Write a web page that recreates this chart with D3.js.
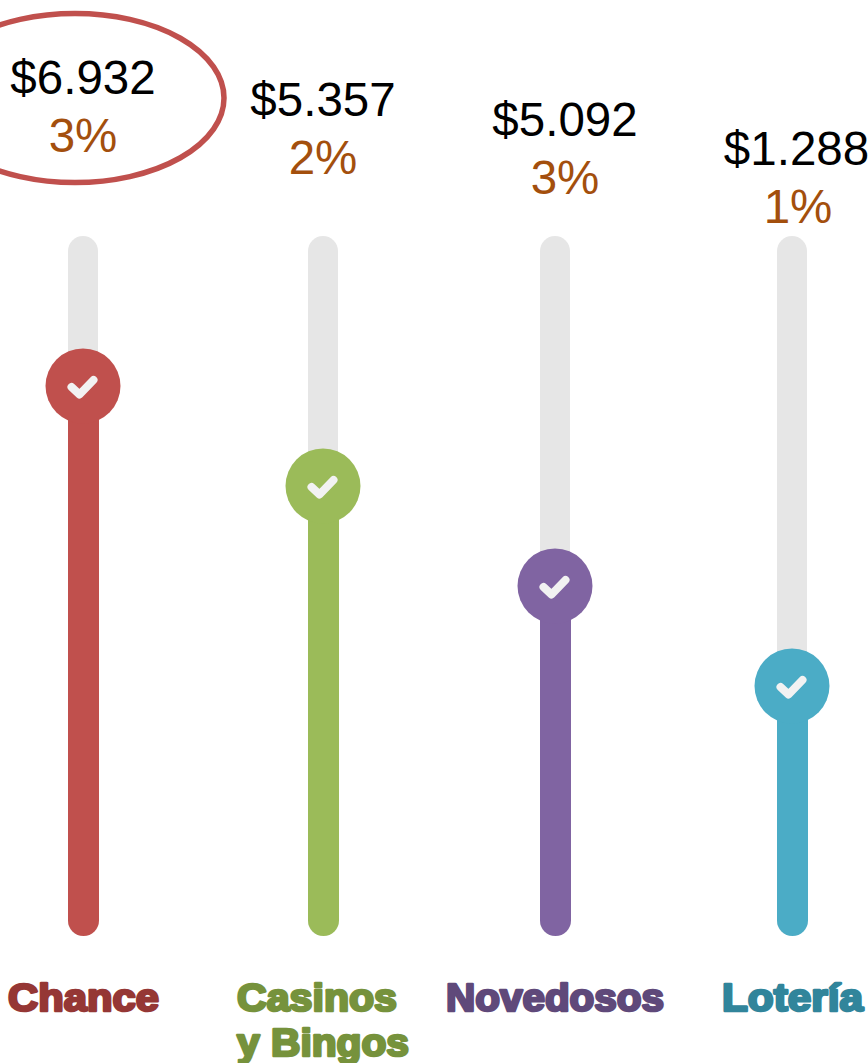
<!DOCTYPE html>
<html>
<head>
<meta charset="utf-8">
<style>html,body{margin:0;padding:0;background:#fff;overflow:hidden}svg{display:block}</style>
<script src="https://cdn.jsdelivr.net/npm/d3@7/dist/d3.min.js"></script>
</head>
<body>
<div id="chart"></div>
<script>
// Data
const categories = ["Chance", "Casinos y Bingos", "Novedosos", "Lotería"];
const amounts = [6932, 5357, 5092, 1288];
const shares = [3, 2, 3, 1];
const sliderLevels = [5.5, 4.5, 3.5, 2.5];
const highlighted = ["Chance"];

// Styles
const barColors = ["#c0504d", "#9bbb59", "#8064a2", "#4bacc6"];
const labelColors = ["#953735", "#76923c", "#5f497a", "#31859b"];

// Layout
const W = 868, H = 1063;
const x = d3.scaleOrdinal().domain(categories).range([83, 323, 555, 792]);
const xValue = d3.scaleOrdinal().domain(categories).range([83, 323, 565, 796.5]);
const xShare = d3.scaleOrdinal().domain(categories).range([83, 323, 565, 798]);
const yValue = d3.scaleOrdinal().domain(categories).range([93.5, 115.5, 135.5, 165]);
const labelLines = d3.scaleOrdinal().domain(categories).range([
  [{t:"Chance", x:8, w:151}],
  [{t:"Casinos", x:237, w:160},{t:"y Bingos", x:237, w:172}],
  [{t:"Novedosos", x:446, w:218}],
  [{t:"Lotería", x:722, w:141}]
]);
const y = d3.scaleLinear().domain([0, 7]).range([936, 236]);
const locale = d3.formatLocale({decimal:",", thousands:".", grouping:[3], currency:["$",""]});
const money = locale.format("$,d");

const rows = categories.map((c, i) => ({c, amount: amounts[i], share: shares[i], level: sliderLevels[i], bar: barColors[i], label: labelColors[i]}));

const svg = d3.select("#chart").append("svg").attr("width", W).attr("height", H).attr("viewBox", `0 0 ${W} ${H}`);
svg.append("rect").attr("width", W).attr("height", H).attr("fill", "#fff");
const FONT = "'Liberation Sans', Arial, sans-serif";

// Highlight ring
svg.selectAll("ellipse.ring").data(rows.filter(r => highlighted.includes(r.c))).join("ellipse")
  .attr("class", "ring").attr("cx", 75).attr("cy", 98).attr("rx", 149).attr("ry", 84.5)
  .attr("fill", "none").attr("stroke", d => d.bar).attr("stroke-width", 5.5);

const g = svg.selectAll("g.col").data(rows).join("g").attr("class", "col");

// Track
g.append("rect").attr("x", d => x(d.c) - 15).attr("width", 30)
  .attr("y", y(7)).attr("height", d => y(0) - y(7)).attr("rx", 15).attr("fill", "#e6e6e6");
// Fill
g.append("rect").attr("x", d => x(d.c) - 15).attr("width", 31)
  .attr("y", d => y(d.level)).attr("height", d => y(0) - y(d.level)).attr("rx", 15.5).attr("fill", d => d.bar);
// Knob
g.append("circle").attr("cx", d => x(d.c)).attr("cy", d => y(d.level)).attr("r", 37.5).attr("fill", d => d.bar);
// Check
g.append("path")
  .attr("transform", d => `translate(${x(d.c)},${y(d.level)})`)
  .attr("d", "M-11.5,1 L-3.5,8.5 L10.5,-6")
  .attr("fill", "none").attr("stroke", "#f2f2f2").attr("stroke-width", 8)
  .attr("stroke-linecap", "round").attr("stroke-linejoin", "round");

// Value
g.append("text").attr("x", d => xValue(d.c)).attr("y", d => yValue(d.c))
  .attr("text-anchor", "middle").attr("font-family", FONT).attr("font-size", 47.5).attr("fill", "#000")
  .text(d => money(d.amount));
// Share
g.append("text").attr("x", d => xShare(d.c)).attr("y", d => yValue(d.c) + 58)
  .attr("text-anchor", "middle").attr("font-family", FONT).attr("font-size", 47.5).attr("fill", "#a34f0d")
  .text(d => d.share + "%");

// Category labels
g.each(function(d) {
  d3.select(this).selectAll("text.cat").data(labelLines(d.c)).join("text")
    .attr("class", "cat")
    .attr("x", l => l.x).attr("y", (l, i) => 1010.5 + i * 45.5)
    .attr("textLength", l => l.w).attr("lengthAdjust", "spacingAndGlyphs")
    .attr("font-family", FONT).attr("font-weight", 700).attr("font-size", 38)
    .attr("fill", d.label).attr("stroke", d.label).attr("stroke-width", 2.6).attr("stroke-linejoin", "round")
    .text(l => l.t);
});
</script>
</body>
</html>
